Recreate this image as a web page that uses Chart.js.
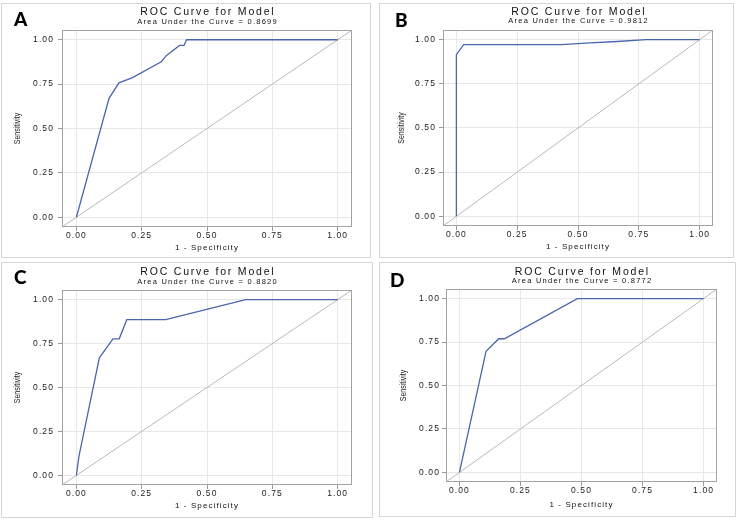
<!DOCTYPE html>
<html><head><meta charset="utf-8">
<script src="https://cdn.jsdelivr.net/npm/chart.js@4.4.1/dist/chart.umd.min.js"></script>
<style>
html,body{margin:0;padding:0;background:#fff;}
body{width:740px;height:520px;position:relative;overflow:hidden;}
.panel{position:absolute;box-sizing:border-box;border:1px solid #d6d6d6;background:#fff;}
.panel canvas{display:block;}
.letter{position:absolute;font-family:Lato,"Open Sans",sans-serif;font-weight:900;font-size:19px;line-height:19px;color:#000;}
</style></head><body>
<script>
// ---- data ----
const panelLetters = ['A', 'B', 'C', 'D'];
const chartTitle = 'ROC Curve for Model';
const aucTexts = ['Area Under the Curve = 0.8699', 'Area Under the Curve = 0.9812',
                  'Area Under the Curve = 0.8820', 'Area Under the Curve = 0.8772'];
const xAxisTitle = '1 - Specificity';
const yAxisTitle = 'Sensitivity';
const tickValues = [0, 0.25, 0.5, 0.75, 1];
const tickLabels = ['0.00', '0.25', '0.50', '0.75', '1.00'];
const refX = [-0.1, 1.1];
const refY = [-0.1, 1.1];

const aX = [0, 0.125, 0.163, 0.215, 0.325, 0.345, 0.395, 0.412, 0.422, 1];
const aY = [0, 0.67, 0.757, 0.787, 0.876, 0.912, 0.968, 0.968, 1, 1];
const bX = [0, 0, 0.03, 0.43, 0.55, 0.66, 0.78, 1];
const bY = [0, 0.915, 0.972, 0.972, 0.982, 0.99, 1, 1];
const cX = [0, 0.01, 0.088, 0.14, 0.164, 0.193, 0.342, 0.648, 1];
const cY = [0, 0.11, 0.669, 0.777, 0.777, 0.886, 0.886, 1, 1];
const dX = [0, 0.109, 0.161, 0.184, 0.483, 1];
const dY = [0, 0.697, 0.769, 0.769, 1, 1];

// ---- layout (page pixels) ----
const layouts = [
  {box:[1,3,370,257],   area:[62,30,352,227],  titleY:12,    subY:22,    yTitleX:18,    yPad:4, xTitleY:248,   letter:[14,8.5]},
  {box:[379,3,733,257], area:[443,30,713,226], titleY:11.7,  subY:20.7,  yTitleX:401.7, yPad:3, xTitleY:247,   letter:[395,10]},
  {box:[1,262,372,517], area:[62,290,352,485], titleY:272.3, subY:282.3, yTitleX:17.7,  yPad:4, xTitleY:506,   letter:[14,267]},
  {box:[379,262,735,516],area:[446,289,717,482],titleY:271.7, subY:281.3, yTitleX:403.3, yPad:2, xTitleY:504.3, letter:[390,269.5]}
];
const series = [[aX, aY], [bX, bY], [cX, cY], [dX, dY]];

const FONT = '"Liberation Sans", Arial, sans-serif';

const panelTextPlugin = {
  id: 'panelText',
  beforeDraw(chart) { chart.ctx.letterSpacing = '1.1px'; },
  afterDraw(chart, args, o) {
    const ctx = chart.ctx, ca = chart.chartArea;
    ctx.save();
    ctx.letterSpacing = '0px';
    ctx.strokeStyle = '#a3a3a3';
    ctx.lineWidth = 1;
    ctx.strokeRect(ca.left + 0.5, ca.top + 0.5, ca.right - ca.left - 1, ca.bottom - ca.top - 1);
    const cx = (ca.left + ca.right) / 2;
    ctx.fillStyle = '#111';
    ctx.textAlign = 'center';
    ctx.textBaseline = 'middle';
    ctx.letterSpacing = '1.8px';
    ctx.font = '10.5px ' + FONT;
    ctx.fillText(o.title, cx + 0.9, o.titleY);
    ctx.letterSpacing = '1.25px';
    ctx.font = '7.5px ' + FONT;
    ctx.fillText(o.subtitle, cx + 0.6, o.subY);
    ctx.letterSpacing = '0px';
    ctx.fillStyle = '#222';
    ctx.translate(o.yTitleX, (ca.top + ca.bottom) / 2);
    ctx.rotate(-Math.PI / 2);
    ctx.scale(0.82, 1);
    ctx.font = '8.5px ' + FONT;
    ctx.fillText(o.yTitle, 0, 0);
    ctx.restore();
  }
};

function makePanel(i) {
  const g = layouts[i];
  const [L, T, R, B] = g.box;
  const div = document.createElement('div');
  div.className = 'panel';
  div.style.left = L + 'px'; div.style.top = T + 'px';
  div.style.width = (R - L + 1) + 'px'; div.style.height = (B - T + 1) + 'px';
  const W = R - L - 1, H = B - T - 1;
  const cv = document.createElement('canvas');
  cv.width = W; cv.height = H; cv.style.width = W + 'px'; cv.style.height = H + 'px';
  div.appendChild(cv);
  document.body.appendChild(div);
  const lt = document.createElement('div');
  lt.className = 'letter';
  lt.textContent = panelLetters[i];
  lt.style.left = g.letter[0] + 'px'; lt.style.top = g.letter[1] + 'px';
  document.body.appendChild(lt);

  const ox = L + 1, oy = T + 1;
  const aL = g.area[0] - ox, aT = g.area[1] - oy, aR = g.area[2] - ox, aB = g.area[3] - oy;
  const xs = series[i][0], ys = series[i][1];
  const tickFont = {family: FONT, size: 8.5};
  const gridCfg = {color: '#e8e8e8', lineWidth: 1, tickLength: 4, tickColor: '#9a9a9a', drawTicks: true};
  const setTicks = s => { s.ticks = tickValues.map(v => ({value: v})); };
  const lab = v => tickLabels[tickValues.indexOf(v)];

  new Chart(cv, {
    type: 'scatter',
    data: {datasets: [
      {data: refX.map((x, k) => ({x: x, y: refY[k]})), showLine: true, borderColor: '#b9b9b9',
       borderWidth: 1, pointRadius: 0, clip: 0, order: 2},
      {data: xs.map((x, k) => ({x: x, y: ys[k]})), showLine: true, borderColor: '#4a66ac',
       borderWidth: 1.3, pointRadius: 0, clip: 0, order: 1}
    ]},
    options: {
      responsive: false, animation: false, devicePixelRatio: 1, events: [],
      layout: {padding: {left: 0, top: aT, right: W - aR, bottom: 0}},
      plugins: {
        legend: {display: false}, tooltip: {enabled: false},
        panelText: {title: chartTitle, subtitle: aucTexts[i], yTitle: yAxisTitle,
                    titleY: g.titleY - oy, subY: g.subY - oy, yTitleX: g.yTitleX - ox}
      },
      scales: {
        x: {
          type: 'linear', min: -0.055, max: 1.055,
          afterBuildTicks: setTicks,
          afterFit: s => { s.height = H - aB; },
          ticks: {autoSkip: false, maxRotation: 0, padding: 0, font: tickFont, color: '#222', callback: lab},
          grid: gridCfg, border: {display: false},
          title: {display: true, text: xAxisTitle, color: '#111',
                  font: {family: FONT, size: 8, lineHeight: 1},
                  padding: {top: 0, bottom: H - 4 - (g.xTitleY - oy)}}
        },
        y: {
          type: 'linear', min: -0.055, max: 1.055,
          afterBuildTicks: setTicks,
          afterFit: s => { s.width = aL; },
          ticks: {autoSkip: false, padding: g.yPad, font: tickFont, color: '#222', callback: lab},
          grid: gridCfg, border: {display: false},
          title: {display: false}
        }
      }
    },
    plugins: [panelTextPlugin]
  });
}
for (let i = 0; i < 4; i++) makePanel(i);
</script>
</body></html>
